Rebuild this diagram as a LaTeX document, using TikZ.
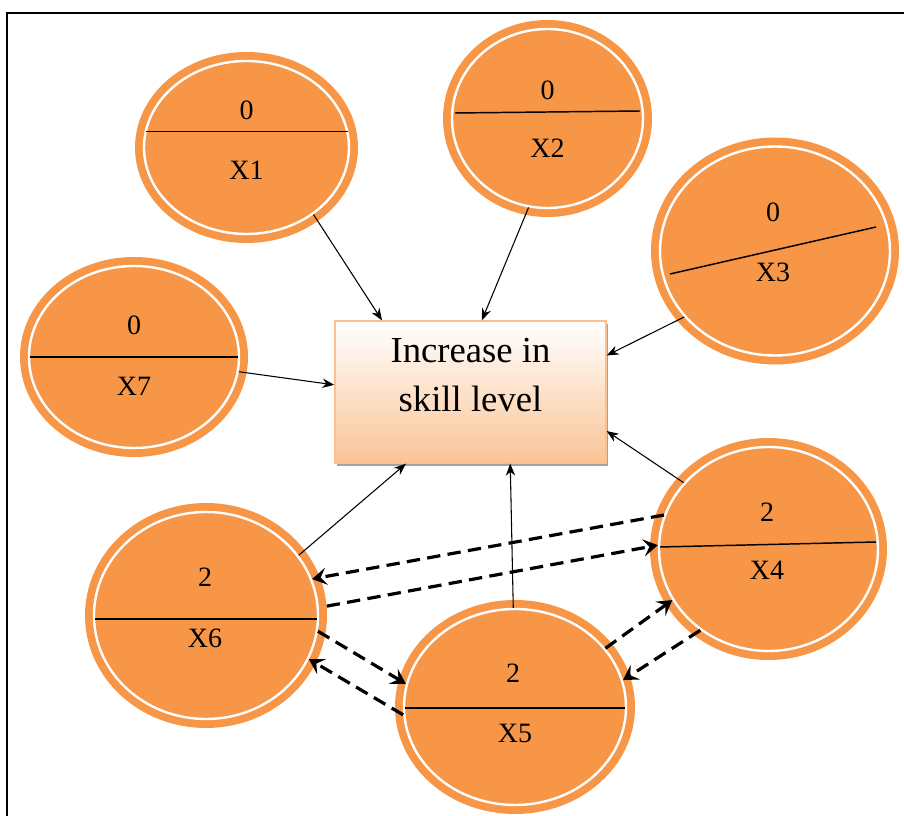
\documentclass[tikz,border=0pt]{standalone}
\usepackage{fontspec}
\setmainfont{Liberation Serif}
\usepackage{tikz}
\usetikzlibrary{arrows.meta, positioning, calc, shapes.geometric, shadows}
\definecolor{factorfill}{RGB}{247,150,70}
\definecolor{goalbottom}{RGB}{250,196,150}
\definecolor{goalline}{RGB}{250,192,143}

\tikzset{
  factor/.style 2 args={ellipse, inner sep=0pt, minimum width=#1*0.75pt, minimum height=#2*0.75pt,
    fill=factorfill, draw=white, line width=1.8pt, preaction={draw=factorfill, line width=13.5pt}},
  factortext/.style={inner sep=0pt, font=\fontsize{21}{24}\selectfont},
  divider/.style={black, line width=1.1pt},
  goal/.style={rectangle, draw=goalline, line width=1pt, top color=white, bottom color=goalbottom,
    minimum width=271*0.75pt, minimum height=142*0.75pt,
    drop shadow={shadow xshift=1.5pt, shadow yshift=-2pt, fill=black!45, opacity=0.8},
    font=\fontsize{27.5}{36.75}\selectfont},
  link/.style={-{Stealth[length=9pt, width=7pt]}, line width=0.8pt},
  mutual/.style={-{Stealth[length=11pt, width=13pt, inset=4.5pt]}, line width=2.4pt, dash pattern=on 10pt off 5.5pt}
}

\begin{document}
\begin{tikzpicture}[x=0.75pt, y=-0.75pt]
    \useasboundingbox (0,0) rectangle (904,816);
    % frame
    \draw[line width=1.5pt] (7,816) -- (7,13) -- (904,13);

    % outcome
    \node[goal] (skill) at (470.5,392) {\begin{tabular}{@{}c@{}}Increase in\\skill level\\[22pt]\end{tabular}};

    % factors
    \node[factor={205}{173}] (x1) at (246.5,147.5) {};
    \node[factortext] (x1top) at ([shift={(0,-37.5)}]x1.center) {0};
    \node[factortext] (x1name) at ([shift={(0,22.5)}]x1.center) {X1};
    \draw[divider] ([shift={(-101,-16)}]x1.center) -- ([shift={(101,-16)}]x1.center);

    \node[factor={191}{179}] (x2) at (547.5,118.5) {};
    \node[factortext] (x2top) at ([shift={(0,-28.5)}]x2.center) {0};
    \node[factortext] (x2name) at ([shift={(0,29.5)}]x2.center) {X2};
    \draw[divider] ([shift={(-92.5,-5.5)}]x2.center) -- ([shift={(92.5,-7.5)}]x2.center);

    \node[factor={230}{209}] (x3) at (775,251) {};
    \node[factortext] (x3top) at ([shift={(-2,-39)}]x3.center) {0};
    \node[factortext] (x3name) at ([shift={(-2,21)}]x3.center) {X3};
    \draw[divider] ([shift={(-105,23)}]x3.center) -- ([shift={(101,-24)}]x3.center);

    \node[factor={219}{204}] (x4) at (768.5,549) {};
    \node[factortext] (x4top) at ([shift={(-1.5,-37)}]x4.center) {2};
    \node[factortext] (x4name) at ([shift={(-1.5,21)}]x4.center) {X4};
    \draw[divider] ([shift={(-108.5,-2)}]x4.center) -- ([shift={(107.5,-7)}]x4.center);

    \node[factor={222}{196}] (x5) at (515,707) {};
    \node[factortext] (x5top) at ([shift={(-2,-34)}]x5.center) {2};
    \node[factortext] (x5name) at ([shift={(0,26)}]x5.center) {X5};
    \draw[divider] ([shift={(-110,1)}]x5.center) -- ([shift={(110,1)}]x5.center);

    \node[factor={224}{207}] (x6) at (206,615.5) {};
    \node[factortext] (x6top) at ([shift={(-1,-38.5)}]x6.center) {2};
    \node[factortext] (x6name) at ([shift={(-1,22.5)}]x6.center) {X6};
    \draw[divider] ([shift={(-111,3.5)}]x6.center) -- ([shift={(111,3.5)}]x6.center);

    \node[factor={210}{182}] (x7) at (134,357) {};
    \node[factortext] (x7top) at ([shift={(0,-32)}]x7.center) {0};
    \node[factortext] (x7name) at ([shift={(0,29)}]x7.center) {X7};
    \draw[divider] ([shift={(-104,0)}]x7.center) -- ([shift={(104,0)}]x7.center);

    % effects on skill level
    \draw[link] (x1.-45.4) -- (skill.141.2);
    \draw[link] (x2.-102.9) -- (skill.81.7);
    \draw[link] (x3.-144.1) -- (skill.15.2);
    \draw[link] (x7.-8.2) -- (skill.177.1);
    \draw[link] (x6.33.8) -- (skill.-132.7);
    \draw[link] (x5.91.2) -- (skill.-61.25);
    \draw[link] (x4.142.2) -- (skill.-16.3);

    % mutual effects
    \draw[mutual] (x4.162.2) -- (x6.19.3);
    \draw[mutual, shorten <=6pt] (x6.4.4) -- (x4.178.9);
    \draw[mutual] (x6.-8.7) -- (x5.168.8);
    \draw[mutual] (x5.-176.5) -- (x6.-23.5);
    \draw[mutual] (x5.33.4) -- (x4.-152.4);
    \draw[mutual] (x4.-130.5) -- (x5.14.4);
\end{tikzpicture}
\end{document}
